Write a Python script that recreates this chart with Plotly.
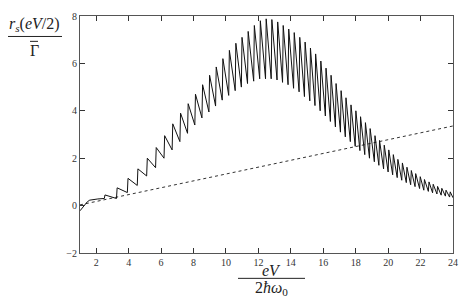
import plotly.graph_objects as go

# ---- data ----
# smooth onset before the first step
onset_x = [1.0, 1.15, 1.3, 1.45, 1.6, 1.8, 2.1, 2.5]
onset_y = [-0.22, -0.08, 0.06, 0.16, 0.23, 0.26, 0.28, 0.30]

# step positions (eV / 2ħω0)
jump_x = [2.50, 3.25, 3.92, 4.53, 5.11, 5.66, 6.18, 6.68, 7.16, 7.63,
          8.08, 8.52, 8.95, 9.36, 9.77, 10.17, 10.57, 10.95, 11.33, 11.71,
          12.08, 12.44, 12.79, 13.15, 13.49, 13.83, 14.17, 14.51, 14.84, 15.17,
          15.49, 15.81, 16.13, 16.44, 16.75, 17.06, 17.36, 17.67, 17.97, 18.26,
          18.56, 18.85, 19.15, 19.43, 19.72, 20.00, 20.28, 20.56, 20.84, 21.12,
          21.39, 21.66, 21.94, 22.20, 22.48, 22.74, 23.01, 23.27, 23.53, 23.79]
# value just before each step
trough_y = [0.30, 0.30, 0.55, 0.85, 1.25, 1.60, 2.00, 2.35, 2.70, 3.05,
            3.40, 3.70, 3.95, 4.20, 4.45, 4.65, 4.85, 5.00, 5.15, 5.25,
            5.35, 5.35, 5.35, 5.30, 5.20, 5.10, 4.95, 4.80, 4.60, 4.42,
            4.22, 4.00, 3.78, 3.55, 3.32, 3.10, 2.90, 2.70, 2.50, 2.32,
            2.15, 2.00, 1.85, 1.70, 1.55, 1.42, 1.30, 1.18, 1.07, 0.97,
            0.88, 0.80, 0.72, 0.65, 0.60, 0.54, 0.49, 0.44, 0.40, 0.36]
# value just after each step
peak_y = [0.45, 0.75, 1.15, 1.55, 2.00, 2.45, 2.95, 3.45, 3.90, 4.30,
          4.70, 5.10, 5.50, 5.85, 6.20, 6.55, 6.85, 7.10, 7.35, 7.60,
          7.80, 7.88, 7.85, 7.75, 7.60, 7.45, 7.30, 7.10, 6.90, 6.65,
          6.40, 6.10, 5.80, 5.50, 5.15, 4.85, 4.55, 4.25, 4.00, 3.75,
          3.50, 3.25, 2.95, 2.75, 2.55, 2.35, 2.15, 1.95, 1.80, 1.62,
          1.48, 1.35, 1.22, 1.10, 1.00, 0.90, 0.81, 0.73, 0.65, 0.58]
end_x, end_y = 24.0, 0.33

# straight dotted reference line
lin_x = [1.0, 24.0]
lin_y = [0.03, 3.36]

x_ticks = [2, 4, 6, 8, 10, 12, 14, 16, 18, 20, 22, 24]
y_ticks = [-2, 0, 2, 4, 6, 8]

# ---- build sawtooth polyline from the step data ----
rise = 0.04
sx = list(onset_x[:-1])
sy = list(onset_y[:-1])
for xj, lo, hi in zip(jump_x, trough_y, peak_y):
    sx += [xj, xj + rise]
    sy += [lo, hi]
sx.append(end_x)
sy.append(end_y)

fig = go.Figure()
fig.add_trace(go.Scatter(x=lin_x, y=lin_y, mode="lines",
                         line=dict(color="#333", width=1, dash="dot"),
                         hoverinfo="skip"))
fig.add_trace(go.Scatter(x=sx, y=sy, mode="lines",
                         line=dict(color="#111", width=1),
                         hoverinfo="skip"))

L, R, T, B = 80, 453, 10, 253
W, H = 469, 300
def px(p):
    return (p - L) / (R - L)
def py(p):
    return (B - p) / (B - T)

SERIF = "Liberation Serif, Times New Roman, DejaVu Serif, serif"
axis_common = dict(showgrid=False, zeroline=False, showline=True,
                   linecolor="#555", linewidth=1.2, mirror="ticks",
                   ticks="inside", ticklen=5, tickwidth=1, tickcolor="#333",
                   tickfont=dict(family=SERIF, size=10, color="#333"))
fig.update_xaxes(range=[1, 24], tickvals=x_ticks, **axis_common)
fig.update_yaxes(range=[-2, 8], tickvals=y_ticks, **axis_common)

serif = dict(family=SERIF, size=16, color="#222")
ann = []
# y-axis title (fraction)
ann.append(dict(xref="paper", yref="paper", x=px(34), y=py(19),
                text="<i>r<sub>s</sub></i>(<i>eV</i>/2)", showarrow=False,
                font=serif, xanchor="center", yanchor="middle"))
ann.append(dict(xref="paper", yref="paper", x=px(34), y=py(45),
                text="Γ", showarrow=False,
                font=serif, xanchor="center", yanchor="middle"))
# x-axis title (fraction)
ann.append(dict(xref="paper", yref="paper", x=px(271), y=py(271),
                text="<i>eV</i>", showarrow=False,
                font=serif, xanchor="center", yanchor="middle"))
ann.append(dict(xref="paper", yref="paper", x=px(271), y=py(289),
                text="2<i>ħω</i><sub>0</sub>", showarrow=False,
                font=serif, xanchor="center", yanchor="middle"))

shapes = [
    dict(type="line", xref="paper", yref="paper",
         x0=px(8), x1=px(62), y0=py(31), y1=py(31),
         line=dict(color="#222", width=1)),
    dict(type="line", xref="paper", yref="paper",
         x0=px(30), x1=px(38), y0=py(36), y1=py(36),
         line=dict(color="#222", width=1)),
    dict(type="line", xref="paper", yref="paper",
         x0=px(238), x1=px(305), y0=py(279), y1=py(279),
         line=dict(color="#222", width=1)),
]

fig.update_layout(width=W, height=H, showlegend=False,
                  margin=dict(l=L, r=W - R, t=T, b=H - B),
                  paper_bgcolor="white", plot_bgcolor="white",
                  annotations=ann, shapes=shapes)
fig.write_html("out.html", config={"displayModeBar": False},
               post_script="document.body.style.margin='0';document.body.style.padding='0';")
